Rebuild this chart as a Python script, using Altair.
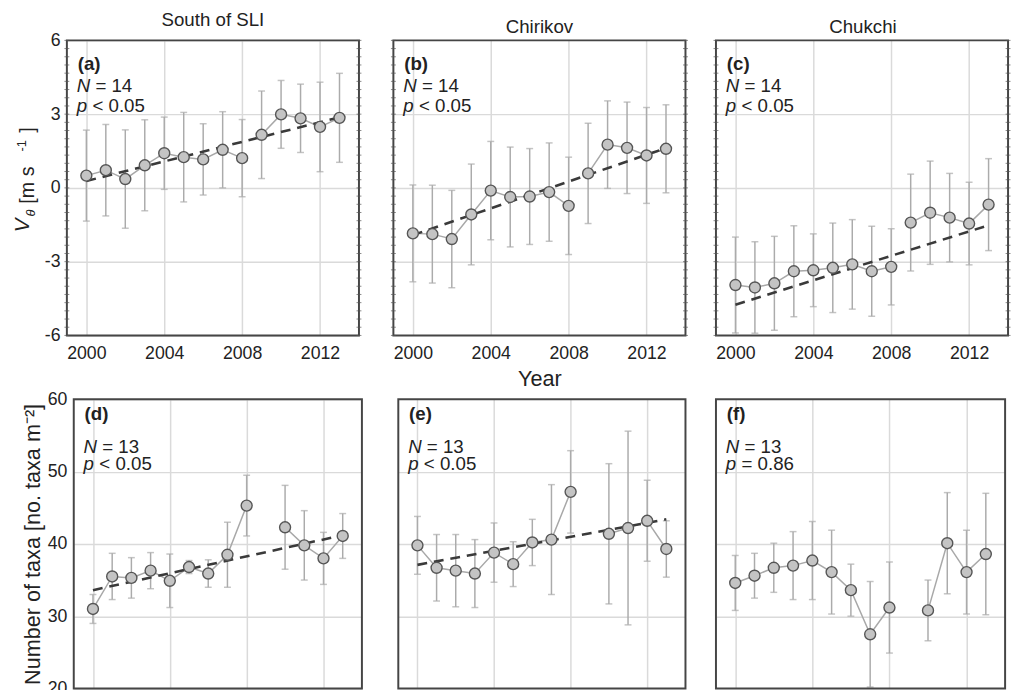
import altair as alt
import pandas as pd

FONT = "Liberation Sans"

# ---------------- data ----------------
years_v = [2000, 2001, 2002, 2003, 2004, 2005, 2006, 2007, 2008, 2009, 2010, 2011, 2012, 2013]
sli_v = [0.50, 0.72, 0.36, 0.92, 1.41, 1.25, 1.16, 1.55, 1.21, 2.16, 2.99, 2.83, 2.48, 2.85]
sli_v_err = [1.85, 1.86, 2.00, 1.85, 1.47, 1.82, 1.45, 1.55, 1.57, 1.78, 1.38, 1.39, 1.82, 1.81]
chir_v = [-1.85, -1.88, -2.08, -1.08, -0.11, -0.37, -0.35, -0.17, -0.73, 0.59, 1.76, 1.63, 1.32, 1.59]
chir_v_err = [1.97, 1.99, 1.98, 2.05, 2.00, 2.03, 1.95, 2.00, 1.98, 2.04, 1.78, 1.86, 1.95, 1.79]
chuk_v = [-3.95, -4.05, -3.88, -3.39, -3.35, -3.25, -3.11, -3.39, -3.21, -1.41, -1.01, -1.21, -1.45, -0.68]
chuk_v_err = [1.95, 1.86, 1.91, 1.85, 1.48, 1.82, 1.82, 1.83, 1.55, 1.97, 2.10, 1.80, 1.68, 1.87]

years_t = [2000, 2001, 2002, 2003, 2004, 2005, 2006, 2007, 2008, 2010, 2011, 2012, 2013]
sli_t = [31.0, 35.5, 35.3, 36.3, 34.9, 36.8, 35.9, 38.5, 45.3, 42.3, 39.8, 38.0, 41.1]
sli_t_err = [2.0, 3.2, 2.8, 2.5, 3.7, 0.9, 1.9, 4.5, 4.2, 5.8, 4.8, 3.6, 3.1]
chir_t = [39.8, 36.7, 36.3, 35.9, 38.8, 37.2, 40.2, 40.6, 47.2, 41.4, 42.2, 43.2, 39.3]
chir_t_err = [4.0, 4.6, 5.0, 4.7, 4.1, 3.1, 3.2, 7.6, 5.7, 9.7, 13.4, 5.6, 3.9]
chuk_t = [34.6, 35.6, 36.7, 37.0, 37.7, 36.1, 33.6, 27.5, 31.2, 30.8, 40.1, 36.1, 38.6]
chuk_t_err = [3.8, 3.1, 3.4, 4.7, 5.4, 5.8, 3.6, 7.3, 6.3, 4.2, 7.0, 5.8, 8.4]

trend_years = [2000, 2013]
sli_v_trend = [0.28, 2.87]
chir_v_trend = [-1.92, 1.62]
chuk_v_trend = [-4.75, -1.52]
sli_t_trend = [33.6, 41.2]
chir_t_trend = [37.1, 43.4]

region_titles = ["South of SLI", "Chirikov", "Chukchi"]
panel_letters = ["(a)", "(b)", "(c)", "(d)", "(e)", "(f)"]
n_values = ["= 14", "= 14", "= 14", "= 13", "= 13", "= 13"]
p_values = ["< 0.05", "< 0.05", "< 0.05", "< 0.05", "< 0.05", "= 0.86"]

x_ticks = [2000, 2004, 2008, 2012]
v_ticks = [-6, -3, 0, 3, 6]
t_ticks = [20, 30, 40, 50, 60]
v_minor = [i / 3 for i in range(-18, 19)]

TEXT = "#222222"
ERR = "#ababab"
LINE = "#a8a8a8"
FRAME = "#454545"


def txt(s, x, y, size=19, style="normal", weight="normal", angle=0, align="left"):
    return alt.Chart(pd.DataFrame({"t": [s]})).mark_text(
        font=FONT, fontSize=size, fontStyle=style, fontWeight=weight, color=TEXT,
        align=align, baseline="alphabetic", angle=angle
    ).encode(text="t:N", x=alt.value(x), y=alt.value(y))


def panel(years, mean, err, trend, idx, ydomain, yticks, ylabels, ytitle, xtitle,
          view_w, x0, pw, height, title=None, minor=False, ann_y=(30, 52, 73)):
    x1 = x0 + pw
    df = pd.DataFrame({"year": years, "mean": mean, "err": err})
    df["seg"] = [0 if y < 2009 else 1 for y in years]
    yscale = alt.Scale(domain=ydomain, nice=False, zero=False)
    xscale = alt.Scale(domain=[1999, 2014], nice=False, zero=False, range=[x0, x1])
    yaxis = alt.Axis(values=yticks, labels=ylabels, ticks=False, domain=False, grid=True,
                     title=ytitle, labelExpr="'' + datum.value", labelPadding=7,
                     titlePadding=3, offset=-x0)
    xaxis = alt.Axis(values=x_ticks, format="d", ticks=False, domain=False, grid=True,
                     title=xtitle, labelPadding=9, titlePadding=7)

    def X(f="year"):
        return alt.X(f + ":Q", scale=xscale, axis=xaxis)

    def Y(f):
        return alt.Y(f + ":Q", scale=yscale, axis=yaxis)

    base = alt.Chart(df).transform_calculate(
        lo="datum.mean - datum.err", hi="datum.mean + datum.err")
    layers = []
    layers.append(base.mark_rule(color=ERR, strokeWidth=1.5).encode(
        x=X(), y=Y("lo"), y2="hi:Q"))
    layers.append(base.mark_tick(color=ERR, orient="horizontal", size=7, thickness=1.5).encode(
        x=X(), y=Y("lo")))
    layers.append(base.mark_tick(color=ERR, orient="horizontal", size=7, thickness=1.5).encode(
        x=X(), y=Y("hi")))
    layers.append(base.mark_line(color=LINE, strokeWidth=1.5).encode(
        x=X(), y=Y("mean"), detail="seg:N"))
    if trend is not None:
        tdf = pd.DataFrame({"year": trend_years, "v": trend})
        layers.append(alt.Chart(tdf).mark_line(color="#3a3a3a", strokeWidth=2.6,
                                              strokeDash=[10, 7]).encode(x=X(), y=Y("v")))
    layers.append(base.mark_point(filled=True, fill="#c4c4c4", stroke="#555555",
                                  strokeWidth=1.4, size=125, opacity=1).encode(
        x=X(), y=Y("mean")))
    # panel frame drawn above the grid
    layers.append(alt.Chart(pd.DataFrame({"z": [0]})).mark_rect(
        fillOpacity=0, stroke=FRAME, strokeWidth=2).encode(
        x=alt.value(x0), x2=alt.value(x1), y=alt.value(0), y2=alt.value(height)))
    if minor:
        mdf = pd.DataFrame({"v": v_minor})
        for xv in (x0, x1):
            layers.append(alt.Chart(mdf).mark_tick(color="#555555", orient="horizontal",
                                                   size=5, thickness=1).encode(
                x=alt.value(xv), y=Y("v")))
    layers.append(txt(panel_letters[idx], x0 + 11, ann_y[0], size=19, weight="bold"))
    layers.append(txt("N", x0 + 10, ann_y[1], style="italic"))
    layers.append(txt(n_values[idx], x0 + 29, ann_y[1]))
    layers.append(txt("p", x0 + 10, ann_y[2], style="italic"))
    layers.append(txt(p_values[idx], x0 + 26, ann_y[2]))
    if idx == 0:
        # y title  V_theta [m s^-1]
        layers.append(txt("V", x0 - 39, 195, size=21, style="italic", angle=270))
        layers.append(txt("\u03b8", x0 - 32, 179, size=13, style="italic", angle=270))
        layers.append(txt("[m s", x0 - 33, 166, size=20, angle=270))
        layers.append(txt("-1", x0 - 42, 113, size=13, angle=270))
        layers.append(txt("]", x0 - 33, 94, size=20, angle=270))
    ch = alt.layer(*layers).properties(width=view_w, height=height)
    if title is not None:
        ch = ch.properties(title=alt.Title(title, fontSize=19, font=FONT, fontWeight="normal",
                                           color=TEXT, offset=2))
    return ch


H, HB = 300, 294

a = panel(years_v, sli_v, sli_v_err, sli_v_trend, 0, [-6, 6], v_ticks, True, None, None,
          297, 0, 297, H, region_titles[0], minor=True)
b = panel(years_v, chir_v, chir_v_err, chir_v_trend, 1, [-6, 6], [-3, 0, 3], False, None, "Year",
          297, 0, 297, H, region_titles[1], minor=True)
c = panel(years_v, chuk_v, chuk_v_err, chuk_v_trend, 2, [-6, 6], [-3, 0, 3], False, None, None,
          297, -1, 297, H, region_titles[2], minor=True)

ann_b = (21, 55, 72)
d = panel(years_t, sli_t, sli_t_err, sli_t_trend, 3, [20, 60], t_ticks, True,
          "Number of taxa [no. taxa m\u207b\u00b2]", None, 300, 7, 293, HB, ann_y=ann_b)
e = panel(years_t, chir_t, chir_t_err, chir_t_trend, 4, [20, 60], [30, 40, 50], False, None, None,
          297, 5, 292, HB, ann_y=ann_b)
f = panel(years_t, chuk_t, chuk_t_err, None, 5, [20, 60], [30, 40, 50], False, None, None,
          297, -1, 294, HB, ann_y=ann_b)

chart = alt.concat(
    a, b, c, d, e, f,
    columns=3, spacing=alt.RowColnumber(row=65, column=32), bounds="flush"
).properties(
    padding={"left": 12, "top": 5, "right": 0, "bottom": 0},
    background="white"
).configure_view(
    strokeOpacity=0
).configure_axis(
    labelFont=FONT, labelFontSize=18, labelColor=TEXT,
    titleFont=FONT, titleFontSize=22, titleFontWeight="normal", titleColor=TEXT,
    gridColor="#dadada", gridWidth=1.5
)

chart.save("out.html", embed_options={"renderer": "svg", "actions": False})
